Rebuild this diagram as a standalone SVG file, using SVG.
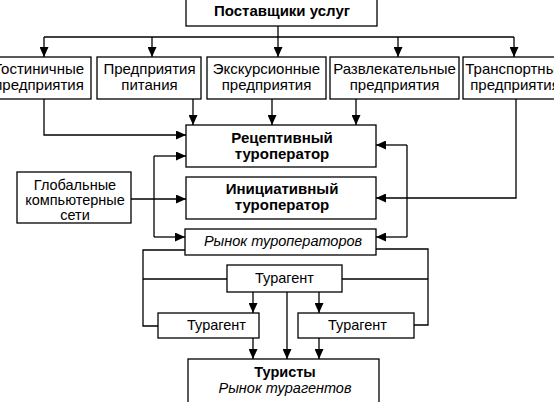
<svg xmlns="http://www.w3.org/2000/svg" width="554" height="402" viewBox="0 0 554 402">
<defs>
<marker id="ah" markerWidth="10" markerHeight="9" refX="10" refY="4.5" orient="auto" markerUnits="userSpaceOnUse">
<path d="M0,0 L10,4.5 L0,9 z" fill="#000"/>
</marker>
<style>
.box{fill:#fff;stroke:#000;stroke-width:1.3}
.t{font-family:"Liberation Sans",Arial,sans-serif;font-size:15px;fill:#000;text-anchor:middle}
.s{font-size:14.5px}
.b{font-weight:bold}
.i{font-style:italic;font-size:14.5px}
.c{fill:none;stroke:#000;stroke-width:1.3}
.a{fill:none;stroke:#000;stroke-width:1.3;marker-end:url(#ah)}
</style>
</defs>
<rect width="554" height="402" fill="#fff"/>
<g id="connectors">
<line class="c" x1="278" y1="26" x2="278" y2="37"/>
<line class="c" x1="44" y1="37" x2="514" y2="37"/>
<line class="a" x1="44" y1="37" x2="44" y2="57"/>
<line class="a" x1="152" y1="37" x2="152" y2="57"/>
<line class="a" x1="278" y1="37" x2="278" y2="57"/>
<line class="a" x1="398" y1="37" x2="398" y2="57"/>
<line class="a" x1="514" y1="37" x2="514" y2="57"/>
<polyline class="a" points="44,99 44,135 186,135"/>
<line class="a" x1="193" y1="99" x2="193" y2="125"/>
<line class="a" x1="272" y1="99" x2="272" y2="125"/>
<line class="a" x1="356" y1="99" x2="356" y2="125"/>
<polyline class="a" points="516,99 516,198 376,198"/>
<line class="c" x1="154" y1="156" x2="154" y2="237"/>
<line class="a" x1="154" y1="156" x2="186" y2="156"/>
<line class="a" x1="154" y1="237" x2="185" y2="237"/>
<line class="a" x1="131" y1="199" x2="186" y2="199"/>
<line class="c" x1="407" y1="145" x2="407" y2="237"/>
<line class="a" x1="407" y1="145" x2="376" y2="145"/>
<line class="a" x1="407" y1="237" x2="376" y2="237"/>
<polyline class="c" points="185,250 143,250 143,326 158,326"/>
<line class="c" x1="143" y1="279" x2="227" y2="279"/>
<polyline class="c" points="376,249 428,249 428,325 414,325"/>
<line class="c" x1="428" y1="279" x2="342" y2="279"/>
<line class="a" x1="253" y1="292" x2="253" y2="313"/>
<line class="a" x1="319" y1="292" x2="319" y2="313"/>
<line class="a" x1="287" y1="292" x2="287" y2="359"/>
<line class="a" x1="253" y1="338" x2="253" y2="359"/>
<line class="a" x1="319" y1="338" x2="319" y2="359"/>
</g>
<g id="suppliers">
<rect class="box" x="186" y="-2" width="191" height="28"/>
<text class="t b" x="282" y="16">Поставщики услуг</text>
</g>
<g id="hotels">
<rect class="box" x="-10" y="57" width="101" height="42"/>
<text class="t" x="39" y="74">Гостиничные</text>
<text class="t" x="39" y="90">предприятия</text>
</g>
<g id="food">
<rect class="box" x="97" y="57" width="104" height="42"/>
<text class="t" x="149.5" y="74">Предприятия</text>
<text class="t" x="149.5" y="90">питания</text>
</g>
<g id="excursion">
<rect class="box" x="207" y="57" width="119" height="42"/>
<text class="t" x="266.5" y="74">Экскурсионные</text>
<text class="t" x="266.5" y="90">предприятия</text>
</g>
<g id="entertainment">
<rect class="box" x="330" y="57" width="129" height="42"/>
<text class="t" x="394.5" y="74">Развлекательные</text>
<text class="t" x="394.5" y="90">предприятия</text>
</g>
<g id="transport">
<rect class="box" x="463" y="57" width="100" height="42"/>
<text class="t" x="515" y="74">Транспортные</text>
<text class="t" x="515" y="90">предприятия</text>
</g>
<g id="receptive">
<rect class="box" x="186" y="125" width="190" height="42"/>
<text class="t b" x="282" y="143">Рецептивный</text>
<text class="t b" x="282" y="159">туроператор</text>
</g>
<g id="initiative">
<rect class="box" x="186" y="177" width="190" height="42"/>
<text class="t b" x="282" y="194">Инициативный</text>
<text class="t b" x="282" y="210">туроператор</text>
</g>
<g id="networks">
<rect class="box" x="17" y="172" width="114" height="51"/>
<text class="t s" x="75" y="190">Глобальные</text>
<text class="t s" x="75" y="205">компьютерные</text>
<text class="t s" x="75" y="220">сети</text>
</g>
<g id="market">
<rect class="box" x="185" y="229" width="191" height="26"/>
<text class="t i" x="283" y="246">Рынок туроператоров</text>
</g>
<g id="agent-center">
<rect class="box" x="227" y="265" width="115" height="27"/>
<text class="t s" x="284.5" y="283">Турагент</text>
</g>
<g id="agent-left">
<rect class="box" x="158" y="313" width="101" height="25"/>
<text class="t s" x="216.5" y="330">Турагент</text>
</g>
<g id="agent-right">
<rect class="box" x="298" y="313" width="116" height="25"/>
<text class="t s" x="357.5" y="330">Турагент</text>
</g>
<g id="tourists">
<rect class="box" x="188" y="359" width="191" height="50"/>
<text class="t b s" x="285" y="377">Туристы</text>
<text class="t i" x="285" y="393">Рынок турагентов</text>
</g>
</svg>
